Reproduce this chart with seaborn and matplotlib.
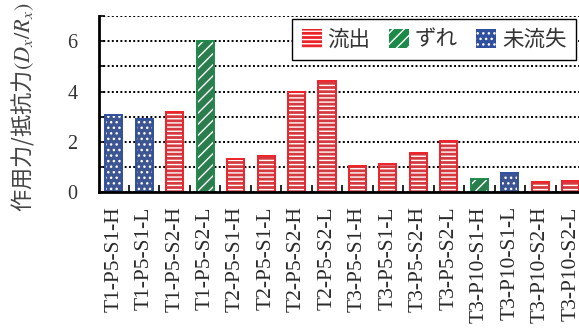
import matplotlib
matplotlib.use("Agg")
import matplotlib.pyplot as plt
from matplotlib.colors import to_rgba
from matplotlib.patches import Patch
import seaborn as sns
import pandas as pd

# Specimens and their force ratio D_x / R_x
labels = [
    "T1-P5-S1-H", "T1-P5-S1-L", "T1-P5-S2-H", "T1-P5-S2-L",
    "T2-P5-S1-H", "T2-P5-S1-L", "T2-P5-S2-H", "T2-P5-S2-L",
    "T3-P5-S1-H", "T3-P5-S1-L", "T3-P5-S2-H", "T3-P5-S2-L",
    "T3-P10-S1-H", "T3-P10-S1-L", "T3-P10-S2-H", "T3-P10-S2-L",
]
ratios = [3.05, 2.9, 3.2, 6.0, 1.31, 1.45, 3.97, 4.4,
          1.03, 1.11, 1.55, 2.05, 0.53, 0.75, 0.40, 0.46]
modes = ["未流失", "未流失", "流出", "ずれ", "流出", "流出", "流出", "流出",
         "流出", "流出", "流出", "流出", "ずれ", "未流失", "流出", "流出"]

mode_order = ["流出", "ずれ", "未流失"]
mode_colors = {"流出": "#ec2229", "ずれ": "#1e8a4a", "未流失": "#2f4f9f"}
mode_hatch = {"流出": "----", "ずれ": "///", "未流失": "..."}

df = pd.DataFrame({"label": labels, "ratio": ratios, "mode": modes})

sns.set_style("white")
plt.rcParams["font.family"] = ["Liberation Serif", "Noto Sans CJK JP"]
plt.rcParams["mathtext.fontset"] = "stix"
plt.rcParams["hatch.linewidth"] = 1.0

fig = plt.figure(figsize=(5.79, 3.31), dpi=100)
ax = fig.add_axes([98.5 / 579, (331 - 192.3) / 331, 487.5 / 579, 176.3 / 331])

# filled, hatched bars
sns.barplot(data=df, x="label", y="ratio", hue="mode", order=labels,
            hue_order=mode_order, palette=mode_colors, dodge=False,
            width=0.56, legend=False, ax=ax, zorder=3, linewidth=0)
rgba_to_mode = {to_rgba(c): m for m, c in mode_colors.items()}
for p in ax.patches:
    fc = p.get_facecolor()
    m = min(rgba_to_mode.items(),
            key=lambda kv: sum((a - b) ** 2 for a, b in zip(kv[0], fc)))[1]
    p.set_hatch(mode_hatch[m])
    p.set_edgecolor("white")
    p.set_linewidth(0)

# coloured outlines
sns.barplot(data=df, x="label", y="ratio", hue="mode", order=labels,
            hue_order=mode_order, palette=mode_colors, dodge=False,
            width=0.56, legend=False, ax=ax, zorder=4, fill=False,
            linewidth=1.4)

ax.set_xlim(-0.5, len(labels) - 0.5)
ax.set_ylim(0, 7)

# dotted horizontal grid
ax.set_yticks(range(0, 8))
ax.set_yticklabels(["0", "", "2", "", "4", "", "6", ""])
ax.yaxis.grid(True, color="black", linestyle=(0, (1, 1.2)), linewidth=1.4, zorder=1)
ax.xaxis.grid(False)

for side in ["top", "right"]:
    ax.spines[side].set_visible(False)
for side in ["left", "bottom"]:
    ax.spines[side].set_color("black")
    ax.spines[side].set_linewidth(2.0)
    ax.spines[side].set_zorder(5)

ax.tick_params(axis="y", direction="in", length=4, width=1.2, color="black",
               pad=15, labelsize=14.5, labelcolor="#333333", left=True)
ax.set_xticks(range(len(labels)))
ax.set_xticklabels(labels, rotation=90, va="top", ha="center")
ax.tick_params(axis="x", which="major", length=0, pad=10, labelsize=15.5,
               labelcolor="#2a2a2a")
ax.set_xticks([i + 0.5 for i in range(len(labels))], minor=True)
ax.tick_params(axis="x", which="minor", direction="in", length=5, width=1.2,
               color="black", bottom=True)

ax.set_xlabel("")
ax.set_ylabel("作用力/抵抗力$(D_x/R_x)$", fontsize=16, color="#444444",
              family=["Noto Sans CJK JP", "DejaVu Sans"])
ax.yaxis.set_label_coords(-0.128, 0.48)

handles = [Patch(facecolor=mode_colors[m], edgecolor="white", hatch=mode_hatch[m],
                 linewidth=0) for m in mode_order]
leg = ax.legend(handles, mode_order, ncol=3, loc="upper left",
                bbox_to_anchor=(0.397, 0.983), frameon=True, fancybox=False,
                edgecolor="black", framealpha=1, borderpad=0.45,
                handlelength=0.95, handleheight=0.95, handletextpad=0.25,
                columnspacing=0.85, borderaxespad=0,
                prop={"family": ["Noto Sans CJK JP"], "size": 15.5})
leg.get_frame().set_linewidth(1.0)
leg.set_zorder(6)
for t in leg.get_texts():
    t.set_color("#333333")

fig.savefig("out.png", dpi=100)
